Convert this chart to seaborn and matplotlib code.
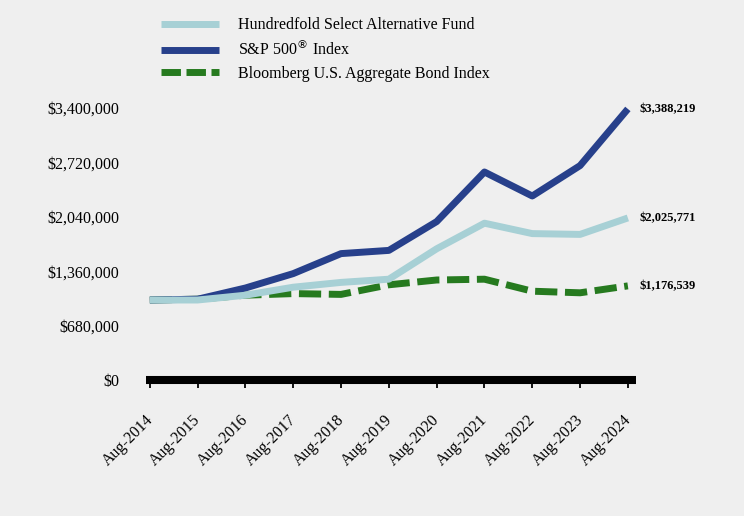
import pandas as pd
import matplotlib.pyplot as plt
import matplotlib.transforms as mtransforms
import seaborn as sns
from matplotlib.lines import Line2D

# === data ===
years = ["Aug-2014", "Aug-2015", "Aug-2016", "Aug-2017", "Aug-2018", "Aug-2019",
         "Aug-2020", "Aug-2021", "Aug-2022", "Aug-2023", "Aug-2024"]
fund = [1000000, 1000000, 1060000, 1160000, 1220000, 1260000,
        1640000, 1960000, 1830000, 1820000, 2025771]
sp500 = [1000000, 1010000, 1150000, 1330000, 1580000, 1620000,
         1980000, 2600000, 2300000, 2680000, 3388219]
bond = [1000000, 1010000, 1060000, 1080000, 1070000, 1190000,
        1250000, 1260000, 1110000, 1090000, 1176539]
yticks = [0, 680000, 1360000, 2040000, 2720000, 3400000]

names = ["Hundredfold Select Alternative Fund", "S&P 500$^{\u00ae}$ Index",
         "Bloomberg U.S. Aggregate Bond Index"]
colors = ["#a7d0d5", "#27408b", "#267a1f"]

df = pd.DataFrame({"x": list(range(len(years))) * 3,
                   "value": fund + sp500 + bond,
                   "series": [names[0]] * 11 + [names[1]] * 11 + [names[2]] * 11})

sns.set_style("white")
plt.rcParams["font.family"] = ["Liberation Serif", "DejaVu Serif"]
plt.rcParams["text.color"] = "black"
plt.rcParams["xtick.color"] = "black"
plt.rcParams["ytick.color"] = "black"
bg = "#efefef"

fig = plt.figure(figsize=(7.44, 5.16), dpi=100, facecolor=bg)
ax = fig.add_axes([146 / 744, 1 - 380 / 516, (636 - 146) / 744, (380 - 92) / 516])
ax.set_facecolor(bg)

zorders = [4, 3, 2]
for name, col, z in zip(names, colors, zorders):
    sub = df[df["series"] == name]
    sns.lineplot(data=sub, x="x", y="value", ax=ax, color=col, lw=5, zorder=z,
                 legend=False)
    ax.lines[-1].set_solid_capstyle("butt")
ax.lines[-1].set_dashes([3.2, 1.1])
ax.lines[-1].set_dash_capstyle("butt")

ax.set_xlim(-0.08, 10.17)
ax.set_ylim(0, 3.6e6)
ax.set_yticks(yticks)
ax.set_yticklabels(["${:,.0f}".format(v) for v in yticks], fontsize=11.5)
ax.set_xticks(range(len(years)))
ax.set_xticklabels(years, rotation=45, ha="right", rotation_mode="anchor", fontsize=11.5)
ax.tick_params(axis="x", bottom=True, direction="out", length=6, width=1.3,
               color="black", pad=17)
ax.tick_params(axis="y", length=0, pad=19)
shift = mtransforms.ScaledTranslation(-5 / 100, 0, fig.dpi_scale_trans)
for lab in ax.get_xticklabels():
    lab.set_transform(lab.get_transform() + shift)
ax.set_xlabel("")
ax.set_ylabel("")
for s in ["top", "right", "left"]:
    ax.spines[s].set_visible(False)
ax.spines["bottom"].set_linewidth(5.8)
ax.spines["bottom"].set_color("black")
ax.spines["bottom"].set_capstyle("butt")

# end labels
for vals in [sp500, fund, bond]:
    ax.text(10 + 0.25, vals[-1], "${:,.0f}".format(vals[-1]), fontsize=9,
            fontweight="bold", va="center", ha="left", clip_on=False)

# legend
leg_handles = [Line2D([], [], color=colors[0], lw=5, solid_capstyle="butt"),
               Line2D([], [], color=colors[1], lw=5, solid_capstyle="butt"),
               Line2D([], [], color=colors[2], lw=5, dashes=[2.8, 0.8],
                      dash_capstyle="butt")]
fig.legend(leg_handles, names, loc="upper left", bbox_to_anchor=(147 / 744, 1 - 3 / 516),
           frameon=False, fontsize=11.5, handlelength=3.6, handletextpad=1.2,
           labelspacing=0.4)

fig.savefig("out.png", dpi=100, facecolor=bg)
